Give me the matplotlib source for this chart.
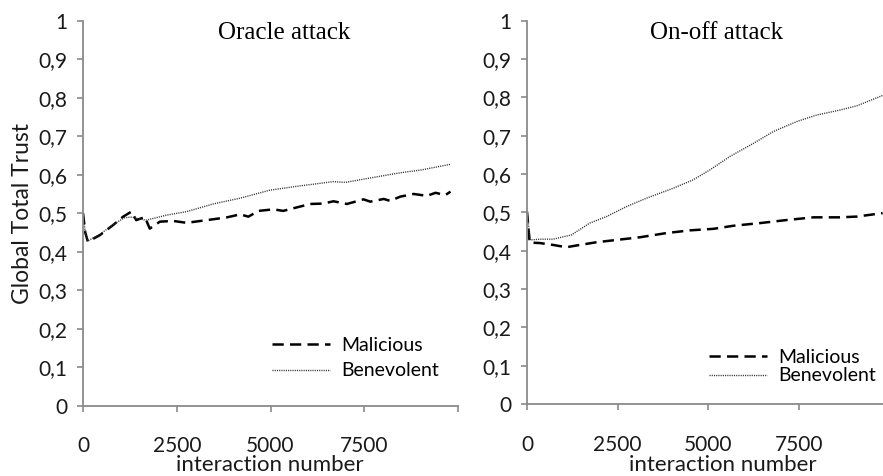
import matplotlib
matplotlib.use("Agg")
import matplotlib.pyplot as plt
from matplotlib.ticker import FixedLocator, FixedFormatter

# ---- data ----
oracle_mal_x = [0, 60, 130, 450, 800, 1070, 1290, 1420, 1650, 1780, 2050, 2400, 2760, 3300, 3830, 4190,
                4410, 4680, 5080, 5340, 5700, 6060, 6410, 6680, 7040, 7480, 7660, 8020, 8190, 8460,
                8820, 9170, 9400, 9660, 9800]
oracle_mal_y = [0.50, 0.45, 0.426, 0.443, 0.469, 0.491, 0.504, 0.482, 0.490, 0.460, 0.478, 0.480, 0.475,
                0.482, 0.489, 0.497, 0.491, 0.506, 0.510, 0.506, 0.515, 0.524, 0.525, 0.531, 0.524,
                0.536, 0.530, 0.537, 0.532, 0.543, 0.550, 0.545, 0.553, 0.547, 0.556]
oracle_ben_x = [0, 60, 130, 450, 800, 1100, 1300, 1500, 1690, 2230, 2760, 3470, 4190, 4990, 5790, 6680,
                7000, 7570, 8460, 9000, 9800]
oracle_ben_y = [0.50, 0.45, 0.428, 0.445, 0.470, 0.488, 0.490, 0.485, 0.482, 0.495, 0.504, 0.524, 0.539,
                0.560, 0.571, 0.582, 0.580, 0.590, 0.605, 0.612, 0.627]

onoff_mal_x = [0, 74, 350, 718, 1086, 1454, 1914, 2466, 3110, 3847, 4490, 5135, 5687, 6424, 7160, 7896,
               8632, 9092, 9800]
onoff_mal_y = [0.502, 0.421, 0.420, 0.415, 0.409, 0.415, 0.422, 0.428, 0.435, 0.446, 0.453, 0.457, 0.465,
               0.472, 0.480, 0.487, 0.487, 0.489, 0.498]
onoff_ben_x = [0, 92, 350, 718, 1224, 1730, 2190, 2742, 3294, 4030, 4583, 5043, 5595, 6240, 6792, 7436,
               7988, 8632, 9092, 9828]
onoff_ben_y = [0.50, 0.428, 0.430, 0.430, 0.441, 0.472, 0.489, 0.515, 0.537, 0.563, 0.585, 0.611, 0.646,
               0.680, 0.711, 0.737, 0.754, 0.767, 0.778, 0.806]

titles = ["Oracle attack", "On-off attack"]
series_labels = ["Malicious", "Benevolent"]
y_ticks = [0, 0.1, 0.2, 0.3, 0.4, 0.5, 0.6, 0.7, 0.8, 0.9, 1.0]
y_tick_labels = ["0", "0,1", "0,2", "0,3", "0,4", "0,5", "0,6", "0,7", "0,8", "0,9", "1"]
x_ticks = [0, 2500, 5000, 7500, 10000]
x_tick_labels = ["0", "2500", "5000", "7500", ""]
x_label = "interaction number"
y_label = "Global Total Trust"

# ---- figure ----
W, H = 883, 476
fig = plt.figure(figsize=(W / 100, H / 100), dpi=100)
sans = ["Lato", "DejaVu Sans"]
serif = ["Liberation Serif", "DejaVu Serif"]
txt = "#1a1a1a"

def px_rect(x0, x1, ytop, ybot):
    return [x0 / W, 1 - ybot / H, (x1 - x0) / W, (ybot - ytop) / H]

ax1 = fig.add_axes(px_rect(83, 458, 20.7, 405.7))
ax2 = fig.add_axes(px_rect(527, 883, 20.7, 404))

panels = [
    (ax1, oracle_mal_x, oracle_mal_y, oracle_ben_x, oracle_ben_y, (0, 10000)),
    (ax2, onoff_mal_x, onoff_mal_y, onoff_ben_x, onoff_ben_y, (0, 9810)),
]

axis_grey = "#8a8a8a"
for ax, mx, my, bx, by, xl in panels:
    ax.plot(mx, my, color="black", lw=1.8, dashes=(4.5, 2.5), label=series_labels[0])
    ax.plot(bx, by, color="#333333", lw=1.0, dashes=(0.8, 0.8), label=series_labels[1])
    ax.set_xlim(*xl)
    ax.set_ylim(0, 1)
    for s in ["top", "right"]:
        ax.spines[s].set_visible(False)
    for s in ["left", "bottom"]:
        ax.spines[s].set_color(axis_grey)
        ax.spines[s].set_linewidth(1.3)
    ax.yaxis.set_major_locator(FixedLocator(y_ticks))
    ax.yaxis.set_major_formatter(FixedFormatter(y_tick_labels))
    ax.xaxis.set_major_locator(FixedLocator(x_ticks))
    ax.xaxis.set_major_formatter(FixedFormatter(x_tick_labels))
    ax.tick_params(axis="both", direction="out", length=4, width=1.2, color=axis_grey,
                   labelsize=15, labelcolor=txt)
    ax.tick_params(axis="y", pad=7)
    ax.tick_params(axis="x", pad=18)
    for lab in ax.get_xticklabels() + ax.get_yticklabels():
        lab.set_family(sans)

ax1.set_ylabel(y_label, family=sans, fontsize=16.5, color=txt, labelpad=4)

fig.text(270 / W, 1 - 465 / H, x_label, family=sans, fontsize=16, color=txt,
         ha="center", va="center")
fig.text(723 / W, 1 - 465 / H, x_label, family=sans, fontsize=16, color=txt,
         ha="center", va="center")

fig.text(284 / W, 1 - 33 / H, titles[0], family=serif, fontsize=18, ha="center", va="center")
fig.text(716 / W, 1 - 33 / H, titles[1], family=serif, fontsize=18, ha="center", va="center")

leg1 = ax1.legend(loc="center left", bbox_to_anchor=(262 / W, 1 - 358 / H),
                  bbox_transform=fig.transFigure, frameon=False,
                  handlelength=3.0, handletextpad=0.6, labelspacing=0.45, borderpad=0,
                  prop={"family": sans, "size": 14})
leg2 = ax2.legend(loc="center left", bbox_to_anchor=(699 / W, 1 - 366.5 / H),
                  bbox_transform=fig.transFigure, frameon=False,
                  handlelength=3.0, handletextpad=0.6, labelspacing=0.1, borderpad=0,
                  prop={"family": sans, "size": 14})

fig.savefig("out.png", dpi=100, facecolor="white")
